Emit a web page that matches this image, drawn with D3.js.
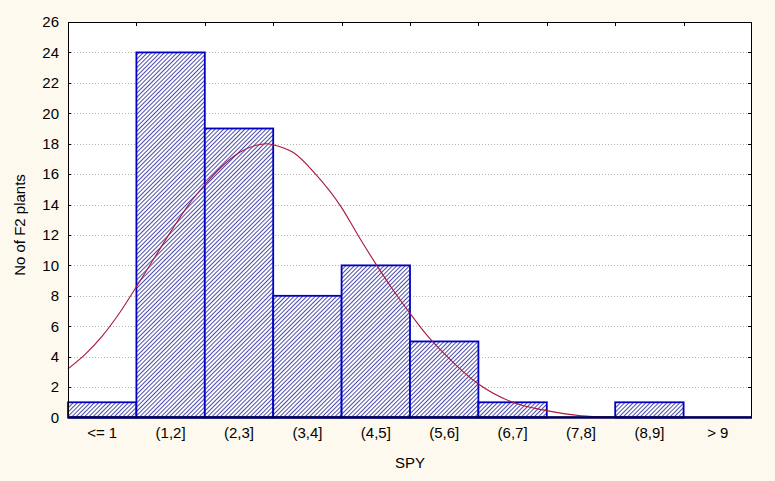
<!DOCTYPE html>
<html>
<head>
<meta charset="utf-8">
<script src="https://d3js.org/d3.v7.min.js"></script>
<style>
body { margin: 0; background: #fdf9ef; }
svg { display: block; font-family: "Liberation Sans", Arial, sans-serif; }
</style>
</head>
<body>
<svg width="775" height="481"></svg>
<script>
// histogram bins and counts
var bins = ["<= 1", "(1,2]", "(2,3]", "(3,4]", "(4,5]", "(5,6]", "(6,7]", "(7,8]", "(8,9]", "> 9"];
var counts = [1, 24, 19, 8, 10, 5, 1, 0, 1, 0];

// fitted normal curve (x in bin units from left edge)
var curveX = [0, 0.25, 0.5, 0.75, 1.0, 1.25, 1.5, 1.75, 2.0, 2.25, 2.5, 2.75, 2.9, 3.1, 3.3, 3.6, 4.0, 4.25, 4.5, 4.75, 5.0, 5.25, 5.5, 6.0, 6.5, 7.0, 7.5, 8.0, 8.3];
var curveY = [3.2, 4.15, 5.35, 6.85, 8.6, 10.4, 12.2, 13.9, 15.3, 16.5, 17.4, 17.9, 18.0, 17.8, 17.4, 16.1, 13.8, 11.9, 10.1, 8.4, 6.85, 5.4, 4.2, 2.2, 1.0, 0.45, 0.12, 0.03, 0.0];

var yTicks = d3.range(0, 27, 2);

var svg = d3.select("svg"),
	pLeft = 68, pRight = 752, pTop = 22, pBottom = 417.5;

var x = d3.scaleBand().domain(bins).range([pLeft, pRight]).padding(0);
var xLin = d3.scaleLinear().domain([0, bins.length]).range([pLeft, pRight]);
var y = d3.scaleLinear().domain([0, 26]).range([pBottom, pTop]);

var defs = svg.append("defs");
var pat = defs.append("pattern")
	.attr("id", "hatch")
	.attr("patternUnits", "userSpaceOnUse")
	.attr("width", 3).attr("height", 3)
	.attr("patternTransform", "rotate(45)");
pat.append("rect").attr("width", 3).attr("height", 3).attr("fill", "#fff");
pat.append("line").attr("x1", 0).attr("y1", 0).attr("x2", 0).attr("y2", 3)
	.attr("stroke", "#000088").attr("stroke-width", 1.4);

// plot area
svg.append("rect")
	.attr("x", pLeft).attr("y", pTop)
	.attr("width", pRight - pLeft).attr("height", pBottom - pTop)
	.attr("fill", "#fff");

// gridlines
svg.append("g").selectAll("line")
	.data(yTicks.filter(function(d) { return d > 0 && d < 26; }))
	.enter().append("line")
	.attr("x1", pLeft).attr("x2", pRight)
	.attr("y1", function(d) { return Math.round(y(d)) + 0.5; })
	.attr("y2", function(d) { return Math.round(y(d)) + 0.5; })
	.attr("stroke", "#b4b4b4")
	.attr("stroke-dasharray", "1,2");

// bars
svg.append("g").selectAll("rect")
	.data(counts)
	.enter().append("rect")
	.attr("x", function(d, i) { return x(bins[i]); })
	.attr("width", x.bandwidth())
	.attr("y", function(d) { return y(d); })
	.attr("height", function(d) { return pBottom - y(d); })
	.attr("fill", "url(#hatch)")
	.attr("stroke", "#0000c4")
	.attr("stroke-width", function(d) { return d > 0 ? 1.8 : 0; });

// normal curve
var line = d3.line()
	.x(function(d, i) { return xLin(curveX[i]); })
	.y(function(d) { return y(d); })
	.curve(d3.curveMonotoneX);

svg.append("path")
	.attr("d", line(curveY))
	.attr("fill", "none")
	.attr("stroke", "#a8183a")
	.attr("stroke-width", 1.1);

// frame
svg.append("rect")
	.attr("x", pLeft + 0.5).attr("y", pTop + 0.5)
	.attr("width", pRight - pLeft - 1).attr("height", pBottom - pTop - 1)
	.attr("fill", "none")
	.attr("stroke", "#000");

svg.append("line")
	.attr("x1", pLeft).attr("x2", pRight)
	.attr("y1", pBottom).attr("y2", pBottom)
	.attr("stroke", "#000060")
	.attr("stroke-width", 2.5);

// inner tick marks on left, right and top
var tk = svg.append("g").attr("stroke", "#000");
tk.selectAll(".tl").data(yTicks.slice(1, -1)).enter().append("line")
	.attr("x1", pLeft).attr("x2", pLeft + 3)
	.attr("y1", function(d) { return Math.round(y(d)) + 0.5; })
	.attr("y2", function(d) { return Math.round(y(d)) + 0.5; });
tk.selectAll(".tr").data(yTicks.slice(1, -1)).enter().append("line")
	.attr("x1", pRight - 4).attr("x2", pRight)
	.attr("y1", function(d) { return Math.round(y(d)) + 0.5; })
	.attr("y2", function(d) { return Math.round(y(d)) + 0.5; });
tk.selectAll(".tt").data(d3.range(1, bins.length)).enter().append("line")
	.attr("x1", function(d) { return Math.round(xLin(d)) + 0.5; })
	.attr("x2", function(d) { return Math.round(xLin(d)) + 0.5; })
	.attr("y1", pTop).attr("y2", pTop + 4);

// y axis labels
var yAxis = d3.axisLeft(y).tickValues(yTicks).tickSize(0).tickPadding(9);
svg.append("g")
	.attr("transform", "translate(" + pLeft + ",0)")
	.call(yAxis)
	.call(function(g) { g.select(".domain").remove(); })
	.selectAll("text")
	.attr("font-size", 15)
	.attr("font-family", "Liberation Sans, Arial, sans-serif")
	.attr("fill", "#000");

// x axis labels
var xAxis = d3.axisBottom(x).tickSize(0).tickPadding(10);
svg.append("g")
	.attr("transform", "translate(0," + pBottom + ")")
	.call(xAxis)
	.call(function(g) { g.select(".domain").remove(); })
	.selectAll("text")
	.attr("font-size", 15)
	.attr("font-family", "Liberation Sans, Arial, sans-serif")
	.attr("fill", "#000");

// axis titles
svg.append("text")
	.attr("x", (pLeft + pRight) / 2)
	.attr("y", 468)
	.attr("text-anchor", "middle")
	.attr("font-size", 15)
	.text("SPY");

svg.append("text")
	.attr("transform", "translate(25,225) rotate(-90)")
	.attr("text-anchor", "middle")
	.attr("font-size", 15)
	.text("No of F2 plants");
</script>
</body>
</html>
